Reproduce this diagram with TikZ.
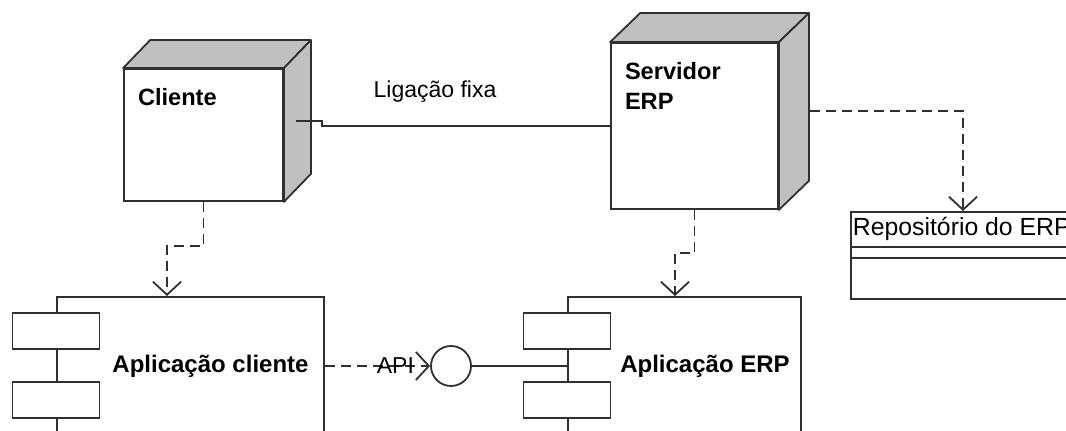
\documentclass[tikz,border=0pt]{standalone}
\usepackage{fontspec}
\setmainfont{Liberation Sans}
\usetikzlibrary{arrows.meta}

\definecolor{facegray}{HTML}{C0C0C0}
\definecolor{linegray}{HTML}{303030}

\tikzset{
  diagram/.style={x=0.5pt, y=-0.5pt, line width=0.9pt, draw=linegray,
    font=\fontsize{11.5}{15}\selectfont},
  nodebox/.style={draw=linegray, fill=white, inner sep=0pt},
  nodeface/.style={draw=linegray, fill=facegray, line join=round},
  nodename/.style={anchor=north west, inner sep=0pt, align=left,
    font=\fontsize{11.8}{15}\selectfont\bfseries, xshift=7pt, yshift=-9.5pt},
  compbox/.style={draw=linegray, fill=white, inner sep=0pt, anchor=north west},
  compport/.style={draw=linegray, fill=white, inner sep=0pt,
    minimum width=43.5pt, minimum height=18pt},
  compname/.style={inner sep=0pt, font=\fontsize{12}{15}\selectfont\bfseries},
  classbox/.style={draw=linegray, fill=white, inner sep=0pt, anchor=north west},
  iface/.style={circle, draw=linegray, fill=white, inner sep=0pt, minimum size=20pt},
  depends/.style={draw=linegray, dash pattern=on 5pt off 3pt,
    -{Straight Barb[length=6.5pt, width=14pt, line width=0.9pt]}},
}

\begin{document}
\begin{tikzpicture}[diagram]
  % Moldura da imagem
  \useasboundingbox (0,0) rectangle (1066,431);
  \clip (0,0) rectangle (1066,431);

  % Nós de implantação
  \node[nodebox, minimum width=79.5pt, minimum height=66pt,
    label={[nodename]north west:Cliente}] (cliente) at (203.5,135) {};
  \node[nodebox, minimum width=83.5pt, minimum height=83pt,
    label={[nodename]north west:Servidor\\ERP}] (servidor) at (694.5,126) {};

  % Faces laterais e de topo
  \foreach \n/\dx/\dy in {cliente/27/28, servidor/30/29} {
    \filldraw[nodeface] (\n.north west) -- ++(\dx,-\dy)
      -- ([shift={(\dx,-\dy)}]\n.north east) -- (\n.north east) -- cycle;
    \filldraw[nodeface] (\n.north east) -- ++(\dx,-\dy)
      -- ([shift={(\dx,-\dy)}]\n.south east) -- (\n.south east) -- cycle;
  }

  % Repositório
  \node[classbox, minimum width=130pt, minimum height=43.5pt] (repo) at (850,211) {};
  \node[anchor=west, inner sep=0pt, font=\fontsize{12.4}{15}\selectfont] (reponame)
    at ([xshift=1pt, yshift=-9pt]repo.north west) {Repositório do ERP};
  \draw ([yshift=-18pt]repo.north west) -- ([yshift=-18pt]repo.north east);
  \draw ([yshift=-23.5pt]repo.north west) -- ([yshift=-23.5pt]repo.north east);

  % Componentes
  \node[compbox, minimum width=133.5pt, minimum height=90pt] (appcli) at (56,296) {};
  \node[compbox, minimum width=116.5pt, minimum height=90pt] (apperp) at (567,296) {};
  \foreach \c in {appcli, apperp} {
    \node[compport] (\c top) at ([yshift=-17.5pt]\c.north west) {};
    \node[compport] (\c bot) at ([yshift=-52pt]\c.north west) {};
  }
  \node[compname] (appclitext) at (210.5,366) {Aplicação cliente};
  \node[compname] (apperptext) at (705,366) {Aplicação ERP};

  % Interface
  \node[iface] (api) at (451,366) {};

  % Ligação fixa
  \coordinate (cliout) at (296,121);
  \draw (cliout) -- ++(26,0) |- (servidor.west);
  \node[inner sep=0pt] (ligacao) at (435,92) {Ligação fixa};

  % Dependências
  \draw[depends] (cliente.south) -- ++(0,44) -| ([xshift=55.5pt]appcli.north west);
  \draw[depends] (servidor.south) -- ++(0,43) -| ([xshift=54pt]apperp.north west);
  \coordinate (srvout) at (810,111);
  \draw[depends] (srvout) -| ([xshift=56.5pt]repo.north west);
  \draw[depends] (appcli.east |- appclitext) -- node[pos=0.67, inner sep=0pt] {API} (api.west);
  \draw (api.east) -- (apperp.west |- api);
\end{tikzpicture}
\end{document}
